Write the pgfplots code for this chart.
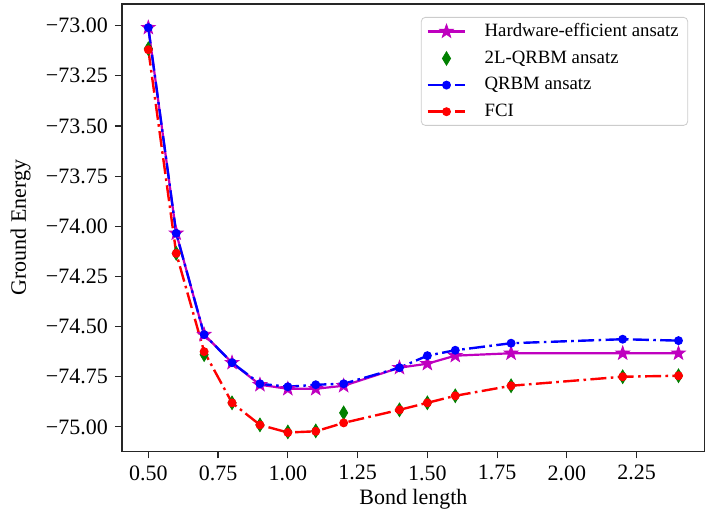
\documentclass[border=0pt]{standalone}
\usepackage{pgfplots}
\pgfplotsset{compat=1.18}
\usepackage{fontspec}
\setmainfont{Liberation Serif}
\definecolor{mplm}{RGB}{191,0,191}
\definecolor{mplg}{RGB}{0,128,0}
\pgfdeclareplotmark{fstar}{%
  \pgfpathmoveto{\pgfqpointpolar{90}{\pgfplotmarksize}}%
  \pgfpathlineto{\pgfqpointpolar{126}{0.4\pgfplotmarksize}}%
  \pgfpathlineto{\pgfqpointpolar{162}{\pgfplotmarksize}}%
  \pgfpathlineto{\pgfqpointpolar{198}{0.4\pgfplotmarksize}}%
  \pgfpathlineto{\pgfqpointpolar{234}{\pgfplotmarksize}}%
  \pgfpathlineto{\pgfqpointpolar{270}{0.4\pgfplotmarksize}}%
  \pgfpathlineto{\pgfqpointpolar{306}{\pgfplotmarksize}}%
  \pgfpathlineto{\pgfqpointpolar{342}{0.4\pgfplotmarksize}}%
  \pgfpathlineto{\pgfqpointpolar{18}{\pgfplotmarksize}}%
  \pgfpathlineto{\pgfqpointpolar{54}{0.4\pgfplotmarksize}}%
  \pgfpathclose
  \pgfusepathqfillstroke
}
\begin{document}
\begin{tikzpicture}
\begin{axis}[
  scale only axis, width=292pt, height=224pt,
  xmin=0.405, xmax=2.495, ymin=-75.122, ymax=-72.892,
  axis line style={line width=0.7pt, black!85},
  tick align=outside, tick pos=left, major tick length=3.5pt,
  every tick/.style={black!85, line width=0.6pt},
  xtick={0.5,0.75,1.0,1.25,1.5,1.75,2.0,2.25},
  xticklabels={0.50,0.75,1.00,1.25,1.50,1.75,2.00,2.25},
  ytick={-75,-74.75,-74.5,-74.25,-74,-73.75,-73.5,-73.25,-73},
  yticklabels={−75.00,−74.75,−74.50,−74.25,−74.00,−73.75,−73.50,−73.25,−73.00},
  tick label style={font=\fontsize{11}{13}\selectfont},
  label style={font=\fontsize{11}{13}\selectfont},
  xlabel={Bond length}, ylabel={Ground Energy},
  xlabel style={yshift=2.5pt},
  ylabel style={yshift=0.8pt},
  legend style={at={(0.971,0.971)}, anchor=north east, draw=black!20, rounded corners=2pt,
    font=\fontsize{9.4}{11}\selectfont, inner xsep=2.5pt, inner ysep=1.5pt, row sep=2.6pt,
    nodes={inner xsep=2pt, inner ysep=1.5pt},
    /tikz/every odd column/.append style={column sep=7pt}},
  legend cell align=left,
  legend image code/.code={\draw[mark repeat=2,mark phase=2] plot coordinates {(0pt,0pt)(9.5pt,0pt)(19pt,0pt)};},
]
\addplot[mplm, line width=1.1pt, mark=fstar, mark size=3.6pt, mark options={solid, fill=mplm, line width=0.4pt}] coordinates {
(0.5,-73.01)(0.6,-74.035)(0.7,-74.54)(0.8,-74.68)(0.9,-74.79)(1.0,-74.81)(1.1,-74.81)(1.2,-74.795)(1.4,-74.705)(1.5,-74.685)(1.6,-74.645)(1.8,-74.633)(2.2,-74.633)(2.4,-74.633)};
\addlegendentry{Hardware-efficient ansatz}
\addplot[mplg, only marks, mark=diamond*, mark size=3.4pt, mark options={xscale=0.8}] coordinates {
(0.5,-73.115)(0.6,-74.135)(0.7,-74.64)(0.8,-74.88)(0.9,-74.99)(1.0,-75.025)(1.1,-75.02)(1.2,-74.93)(1.4,-74.915)(1.5,-74.88)(1.6,-74.845)(1.8,-74.795)(2.2,-74.75)(2.4,-74.745)};
\addlegendentry{2L-QRBM ansatz}
\addplot[blue, line width=1.2pt, dash pattern=on 8pt off 2.2pt on 1.3pt off 2.2pt, mark=*, mark size=1.6pt, mark options={solid}] coordinates {
(0.5,-73.01)(0.6,-74.035)(0.7,-74.54)(0.8,-74.68)(0.9,-74.785)(1.0,-74.80)(1.1,-74.79)(1.2,-74.785)(1.4,-74.705)(1.5,-74.645)(1.6,-74.618)(1.8,-74.583)(2.2,-74.563)(2.4,-74.57)};
\addlegendentry{QRBM ansatz}
\addplot[red, line width=1.2pt, dash pattern=on 8pt off 2.2pt on 1.3pt off 2.2pt, mark=*, mark size=1.6pt, mark options={solid}] coordinates {
(0.5,-73.12)(0.6,-74.135)(0.7,-74.625)(0.8,-74.88)(0.9,-74.99)(1.0,-75.028)(1.1,-75.022)(1.2,-74.98)(1.4,-74.915)(1.5,-74.88)(1.6,-74.845)(1.8,-74.795)(2.2,-74.75)(2.4,-74.745)};
\addlegendentry{FCI}
\end{axis}
\pgfresetboundingbox
\path ([shift={(-61pt,-31.5pt)}]current axis.south west) rectangle ([shift={(0pt,2pt)}]current axis.north east);
\end{tikzpicture}
\end{document}
